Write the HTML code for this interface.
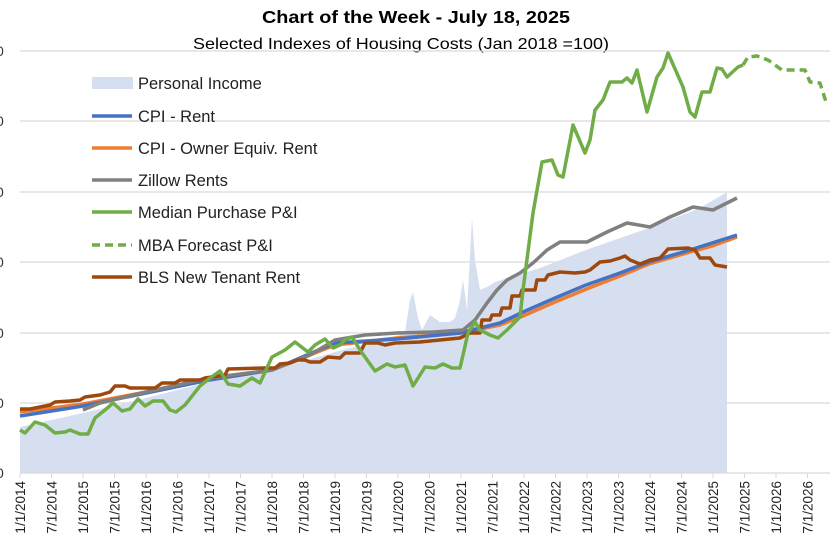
<!DOCTYPE html>
<html><head><meta charset="utf-8"><style>
html,body{margin:0;padding:0;background:#fff;}
svg{display:block;font-family:"Liberation Sans",sans-serif;}
</style></head><body>
<svg width="830" height="553" viewBox="0 0 830 553" xmlns="http://www.w3.org/2000/svg">
<rect width="830" height="553" fill="#fff"/>
<text x="416" y="23" text-anchor="middle" font-size="17.5" font-weight="bold" fill="#000" textLength="308" lengthAdjust="spacingAndGlyphs">Chart of the Week - July 18, 2025</text>
<text x="401" y="49" text-anchor="middle" font-size="16" fill="#000" textLength="416" lengthAdjust="spacingAndGlyphs">Selected Indexes of Housing Costs (Jan 2018 =100)</text>
<g stroke="#d9d9d9" stroke-width="1.3">
<line x1="20" y1="51" x2="830" y2="51"/><line x1="20" y1="121" x2="830" y2="121"/>
<line x1="20" y1="192" x2="830" y2="192"/><line x1="20" y1="262" x2="830" y2="262"/>
<line x1="20" y1="333" x2="830" y2="333"/><line x1="20" y1="403" x2="830" y2="403"/>
</g>
<g font-size="14" fill="#333">
<text x="-4" y="56">0</text><text x="-4" y="126">0</text><text x="-4" y="197">0</text>
<text x="-4" y="267">0</text><text x="-4" y="338">0</text><text x="-4" y="408">0</text><text x="-4" y="478">0</text>
</g>
<polygon fill="#d6dff0" points="20,473 20,427 83,413 146,398 209,382 272,370 335,352 380,340 397,336 405,332 410,300 413,292 418,318 422,330 430,315 440,322 450,322 455,318 460,300 463,280 467,310 472,218 475,260 480,290 487,287 495,282 540,268 586,250 649,228 700,208 727,192 727,473"/>
<line x1="20" y1="473" x2="830" y2="473" stroke="#d9d9d9" stroke-width="1.3"/>
<g stroke="#d9d9d9" stroke-width="1">
<line x1="20" y1="473" x2="20" y2="478"/><line x1="51.5" y1="473" x2="51.5" y2="478"/><line x1="83" y1="473" x2="83" y2="478"/><line x1="114.5" y1="473" x2="114.5" y2="478"/><line x1="146" y1="473" x2="146" y2="478"/><line x1="177.5" y1="473" x2="177.5" y2="478"/><line x1="209" y1="473" x2="209" y2="478"/><line x1="240.5" y1="473" x2="240.5" y2="478"/><line x1="272" y1="473" x2="272" y2="478"/><line x1="303.5" y1="473" x2="303.5" y2="478"/><line x1="335" y1="473" x2="335" y2="478"/><line x1="366.5" y1="473" x2="366.5" y2="478"/><line x1="398" y1="473" x2="398" y2="478"/><line x1="429.5" y1="473" x2="429.5" y2="478"/><line x1="461" y1="473" x2="461" y2="478"/><line x1="492.5" y1="473" x2="492.5" y2="478"/><line x1="524" y1="473" x2="524" y2="478"/><line x1="555.5" y1="473" x2="555.5" y2="478"/><line x1="587" y1="473" x2="587" y2="478"/><line x1="618.5" y1="473" x2="618.5" y2="478"/><line x1="650" y1="473" x2="650" y2="478"/><line x1="681.5" y1="473" x2="681.5" y2="478"/><line x1="713" y1="473" x2="713" y2="478"/><line x1="744.5" y1="473" x2="744.5" y2="478"/><line x1="776" y1="473" x2="776" y2="478"/><line x1="807.5" y1="473" x2="807.5" y2="478"/>
</g>
<g fill="none" stroke-linejoin="round" stroke-width="3.5">
<polyline stroke="#ed7d31" points="20,412 83,404 146,392 209,380 272,370 335,345 397,338 460,333 500,325 523,316 555,302 589,288 620,276 649,264 690,252 712,246 737,237"/>
<polyline stroke="#4472c4" points="20,416 83,406 146,393 209,380 272,370 335,343 397,339 460,333 500,323 523,312 555,298 586,285 620,273 649,262 690,250 712,243 737,235"/>
<polyline stroke="#808080" points="83,410 100,403 146,392 209,378 272,370 310,355 335,340 365,335 397,333 433,332 463,330 475,320 487,303 497,290 507,280 520,273 533,263 547,250 560,242 575,242 587,242 607,232 627,223 650,227 670,217 693,207 713,210 737,198"/>
<polyline stroke="#9e480e" points="20,409 30,409 40,407 50,405 55,402 70,401 80,400 85,397 100,395 110,392 115,386 125,386 130,388 155,388 162,383 175,383 180,380 200,380 205,378 225,375 228,369 265,368 275,368 280,364 290,363 298,360 305,360 310,362 320,362 328,357 340,358 345,353 360,353 365,343 378,343 385,345 395,343 420,342 460,338 470,333 480,333 482,320 490,320 492,315 500,315 502,308 510,308 512,296 520,296 522,290 535,290 537,280 545,280 548,275 560,272 575,273 585,272 590,270 600,262 610,261 620,258 625,256 630,260 640,264 650,260 660,258 668,249 688,248 695,250 700,258 710,258 715,265 727,267"/>
<polyline stroke="#70ad47" points="20,430 25,433 35,422 45,425 55,433 65,432 70,430 80,434 88,434 95,418 105,410 113,403 122,411 130,409 138,399 145,406 153,401 163,401 170,410 176,412 185,405 200,386 210,378 220,371 228,384 240,386 252,378 260,383 272,357 285,350 295,342 308,352 315,345 325,339 333,348 340,345 345,340 352,337 360,350 375,371 387,364 395,367 405,365 413,386 425,367 435,368 443,364 452,368 460,368 468,333 475,322 480,330 490,335 498,338 507,330 520,317 523,290 533,213 542,162 552,160 558,175 563,177 573,125 585,153 590,140 595,110 603,100 610,82 622,82 627,78 632,83 637,70 647,112 657,77 663,68 668,53 683,87 690,112 695,117 702,92 710,92 717,68 722,69 727,77 738,67 743,65"/>
<polyline stroke="#70ad47" stroke-dasharray="8,5" points="743,65 748,57 757,56 768,60 782,70 805,70 810,82 820,83 827,105"/>
</g>
<g font-size="16.5" fill="#222">
<rect x="92" y="77" width="41" height="12" fill="#d6dff0"/><text x="138" y="89">Personal Income</text>
<line x1="92" y1="116" x2="132" y2="116" stroke="#4472c4" stroke-width="3.5"/><text x="138" y="122">CPI - Rent</text>
<line x1="92" y1="148" x2="132" y2="148" stroke="#ed7d31" stroke-width="3.5"/><text x="138" y="154">CPI - Owner Equiv. Rent</text>
<line x1="92" y1="180" x2="132" y2="180" stroke="#808080" stroke-width="3.5"/><text x="138" y="186">Zillow Rents</text>
<line x1="92" y1="212" x2="132" y2="212" stroke="#70ad47" stroke-width="3.5"/><text x="138" y="218">Median Purchase P&amp;I</text>
<line x1="92" y1="245" x2="132" y2="245" stroke="#70ad47" stroke-width="3.5" stroke-dasharray="8,5"/><text x="138" y="251">MBA Forecast P&amp;I</text>
<line x1="92" y1="277" x2="132" y2="277" stroke="#9e480e" stroke-width="3.5"/><text x="138" y="283">BLS New Tenant Rent</text>
</g>
<g font-size="13.5" fill="#222" text-anchor="end">
<text transform="translate(25,481) rotate(-90)">1/1/2014</text>
<text transform="translate(56.5,481) rotate(-90)">7/1/2014</text>
<text transform="translate(88,481) rotate(-90)">1/1/2015</text>
<text transform="translate(119.5,481) rotate(-90)">7/1/2015</text>
<text transform="translate(151,481) rotate(-90)">1/1/2016</text>
<text transform="translate(182.5,481) rotate(-90)">7/1/2016</text>
<text transform="translate(214,481) rotate(-90)">1/1/2017</text>
<text transform="translate(245.5,481) rotate(-90)">7/1/2017</text>
<text transform="translate(277,481) rotate(-90)">1/1/2018</text>
<text transform="translate(308.5,481) rotate(-90)">7/1/2018</text>
<text transform="translate(340,481) rotate(-90)">1/1/2019</text>
<text transform="translate(371.5,481) rotate(-90)">7/1/2019</text>
<text transform="translate(403,481) rotate(-90)">1/1/2020</text>
<text transform="translate(434.5,481) rotate(-90)">7/1/2020</text>
<text transform="translate(466,481) rotate(-90)">1/1/2021</text>
<text transform="translate(497.5,481) rotate(-90)">7/1/2021</text>
<text transform="translate(529,481) rotate(-90)">1/1/2022</text>
<text transform="translate(560.5,481) rotate(-90)">7/1/2022</text>
<text transform="translate(592,481) rotate(-90)">1/1/2023</text>
<text transform="translate(623.5,481) rotate(-90)">7/1/2023</text>
<text transform="translate(655,481) rotate(-90)">1/1/2024</text>
<text transform="translate(686.5,481) rotate(-90)">7/1/2024</text>
<text transform="translate(718,481) rotate(-90)">1/1/2025</text>
<text transform="translate(749.5,481) rotate(-90)">7/1/2025</text>
<text transform="translate(781,481) rotate(-90)">1/1/2026</text>
<text transform="translate(812.5,481) rotate(-90)">7/1/2026</text>
</g>
</svg>
</body></html>
